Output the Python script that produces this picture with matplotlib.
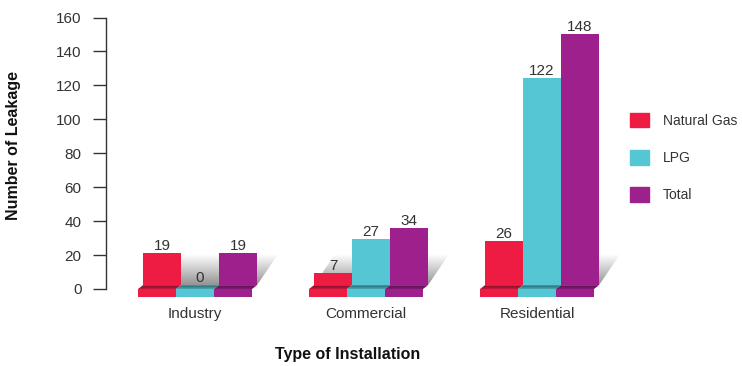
import numpy as np
import matplotlib
matplotlib.use('Agg')
import matplotlib.pyplot as plt
import matplotlib.patches as mpatches
from matplotlib.colors import to_rgb

categories = ['Industry', 'Commercial', 'Residential']
series = ['Natural Gas', 'LPG', 'Total']
natural_gas = [19, 7, 26]
lpg = [0, 27, 122]
total = [19, 34, 148]
yticks = [0, 20, 40, 60, 80, 100, 120, 140, 160]

colors = ['#EE1B43', '#54C6D4', '#9E208C']
text_col = '#333333'

plt.rcParams['font.family'] = ['Liberation Sans', 'DejaVu Sans']

fig = plt.figure(figsize=(7.42, 3.66), dpi=100)
W, H = 742, 366
ax = fig.add_axes([106 / W, (H - 289) / H, (620 - 106) / W, (289 - 17.5) / H])

# 3d look: px per unit in x is 171, in y about 1.697
bw = 38 / 171
dx = 5 / 171          # depth shift
dy = 3.8 / 1.697
slab = 8 / 1.697      # thickness of the floor piece
sh_x = 21 / 171       # shear of the grey shadow
sh_h = 31 / 1.697

ax.set_xlim(-94 / 171, 420 / 171)
ax.set_ylim(0, 160)

centers = np.arange(len(categories))
vals = [natural_gas, lpg, total]

# grey shadow behind each group
grad = np.linspace(0.58, 1.0, 64).reshape(-1, 1)
for c in centers:
    x0 = c - 1.5 * bw
    x1 = c + 1.5 * bw
    poly = mpatches.Polygon([(x0, dy), (x1, dy), (x1 + sh_x, dy + sh_h), (x0 + sh_x, dy + sh_h)],
                            closed=True, facecolor='none', edgecolor='none')
    ax.add_patch(poly)
    im = ax.imshow(grad, cmap='gray', vmin=0, vmax=1, origin='lower', aspect='auto',
                   extent=[x0, x1 + sh_x, dy, dy + sh_h], zorder=1, interpolation='bilinear')
    im.set_clip_path(poly)

for j, v in enumerate(vals):
    col = np.array(to_rgb(colors[j]))
    for i, c in enumerate(centers):
        xl = c + (j - 1.5) * bw
        xr = xl + bw
        # bar
        ax.bar(xl, v[i], width=bw, bottom=dy, align='edge', color=colors[j], zorder=2, linewidth=0)
        # floor piece: top face with a dark gradient, front face
        top = mpatches.Polygon([(xl - dx, 0), (xr - dx, 0), (xr, dy), (xl, dy)], closed=True,
                               facecolor='none', edgecolor='none')
        ax.add_patch(top)
        g = np.linspace(0, 1, 32).reshape(-1, 1, 1)
        rgb = (col * 0.85) * (1 - g) + (col * 0.5) * g
        im = ax.imshow(rgb, origin='lower', aspect='auto', extent=[xl - dx, xr, 0, dy],
                       zorder=3, interpolation='bilinear')
        im.set_clip_path(top)
        ax.add_patch(mpatches.Rectangle((xl - dx, -slab), bw, slab, facecolor=colors[j],
                                        edgecolor='none', zorder=3, clip_on=False))
        ax.annotate(str(v[i]), (c + (j - 1) * bw, v[i] + dy), xytext=(0, 3),
                    textcoords='offset pixels', ha='center', va='baseline',
                    fontsize=11, color=text_col, zorder=4)

ax.set_xlim(-94 / 171, 420 / 171)
ax.set_ylim(0, 160)

ax.set_yticks(yticks)
ax.tick_params(axis='y', length=9.5, width=1.0, color=text_col, pad=8, labelsize=11, labelcolor=text_col)
ax.set_xticks(centers - dx)
ax.set_xticklabels(categories)
ax.tick_params(axis='x', length=0, pad=13, labelsize=11, labelcolor=text_col)

for s in ['top', 'right', 'bottom']:
    ax.spines[s].set_visible(False)
ax.spines['left'].set_color(text_col)
ax.spines['left'].set_linewidth(1.0)

ax.set_xlabel('Type of Installation', fontsize=11.5, fontweight='bold', color='#111111')
ax.xaxis.set_label_coords((347.5 - 106) / 514, (289 - 347) / 271.5)
ax.set_ylabel('Number of Leakage', fontsize=11.5, fontweight='bold', color='#111111')
ax.yaxis.set_label_coords((21 - 106) / 514, (289 - 145) / 271.5)

handles = [mpatches.Patch(color=colors[k], label=series[k]) for k in range(3)]
ax.legend(handles=handles, loc='upper left', bbox_to_anchor=(630 / W, 1 - 112.7 / H),
          bbox_transform=fig.transFigure, frameon=False, borderpad=0, borderaxespad=0,
          handlelength=1.37, handleheight=1.22, handletextpad=1.0, labelspacing=1.62,
          fontsize=10, labelcolor=text_col)

fig.savefig('out.png', dpi=100)
